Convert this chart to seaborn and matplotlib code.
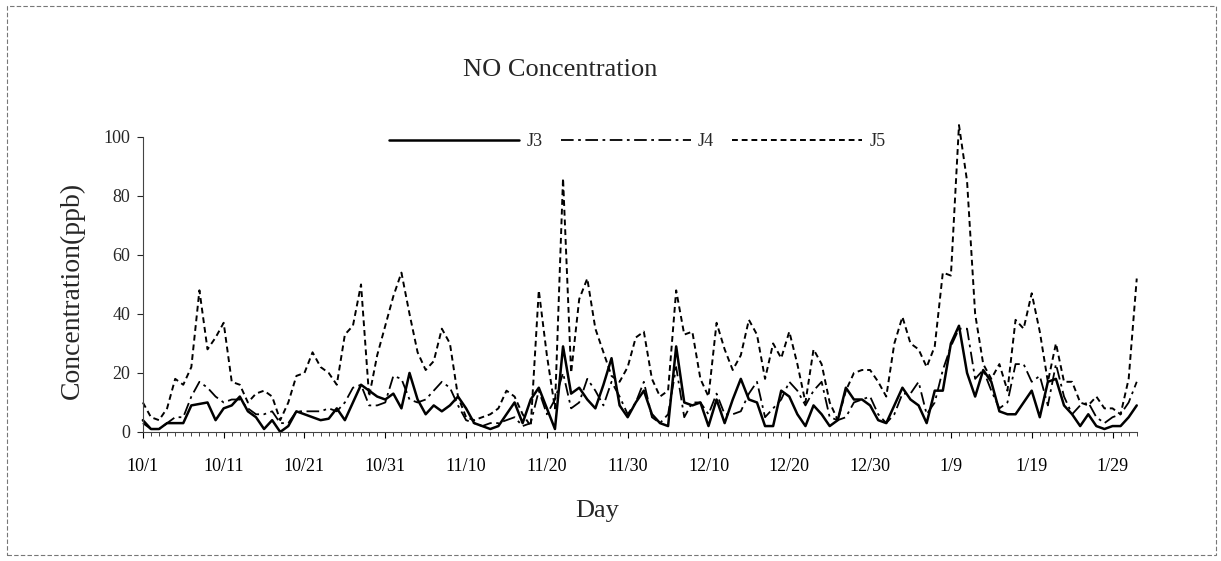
import numpy as np
import pandas as pd
import matplotlib
matplotlib.use("Agg")
import matplotlib.pyplot as plt
from matplotlib.patches import Rectangle
import seaborn as sns

# valeurs journalières de NO (ppb), du 10/1 au 2/1
j3 = [4, 1, 1, 3, 3, 3, 9, 9.5, 10, 4, 8, 9, 12, 7, 5, 1, 4, 0, 2, 7,
      6, 5, 4, 4.5, 8, 4, 10, 16, 14, 12, 11, 13, 8, 20, 11, 6, 9, 7, 9, 12,
      8, 3, 2, 1, 2, 6, 10, 3, 11, 15, 8, 1, 29, 13, 15, 11, 8, 16, 25, 9,
      5, 10, 14, 6, 3, 2, 29, 10, 9, 10, 2, 11, 3, 11, 18, 11, 10, 2, 2, 14,
      12, 6, 2, 9, 6, 2, 4, 15, 11, 11, 9, 4, 3, 9, 15, 11, 9, 3, 14, 14,
      30, 36, 20, 12, 21, 17, 7, 6, 6, 10, 14, 5, 17, 18, 9, 6, 2, 6, 2, 1,
      2, 2, 5, 9]
j4 = [3, 1, 1, 3, 5, 5, 12, 17, 15, 12, 10, 11, 11, 8, 6, 6, 7, 3, 3, 7,
      7, 7, 7, 8, 7, 10, 15, 16, 9, 9, 10, 19, 18, 11, 10, 11, 14, 17, 15, 9,
      4, 3, 2, 3, 3, 4, 5, 2, 3, 14, 6, 11, 20, 8, 10, 18, 14, 9, 17, 12,
      6, 10, 17, 5, 3, 6, 22, 5, 10, 10, 6, 13, 6, 6, 7, 13, 17, 5, 8, 11,
      17, 14, 9, 14, 17, 5, 4, 5, 10, 11, 12, 6, 3, 6, 13, 13, 17, 6, 10, 21,
      29, 35, 35, 18, 21, 14, 8, 10, 23, 23, 17, 19, 9, 23, 12, 6, 9, 10, 5, 3,
      5, 6, 10, 17]
j5 = [10, 5, 4, 8, 18, 16, 22, 48, 28, 32, 37, 17, 16, 10, 13, 14, 12, 4, 10, 19,
      20, 27, 22, 20, 16, 33, 36, 50, 12, 26, 36, 46, 54, 40, 27, 21, 24, 35, 30, 12,
      5, 4, 5, 6, 8, 14, 12, 6, 2, 48, 26, 8, 86, 20, 45, 52, 35, 27, 19, 17,
      22, 32, 34, 18, 12, 14, 48, 33, 34, 18, 12, 37, 28, 21, 26, 38, 33, 18, 30, 25,
      34, 23, 10, 28, 23, 10, 4, 14, 20, 21, 21, 17, 12, 30, 39, 30, 28, 22, 29, 54,
      53, 104, 85, 40, 23, 18, 23, 14, 38, 35, 47, 34, 17, 30, 17, 17, 10, 9, 12, 8,
      8, 6, 18, 52]

tick_days = [0, 10, 20, 30, 40, 50, 60, 70, 80, 90, 100, 110, 120]
tick_labels = ["10/1", "10/11", "10/21", "10/31", "11/10", "11/20", "11/30",
               "12/10", "12/20", "12/30", "1/9", "1/19", "1/29"]

days = np.arange(len(j3))
df = pd.DataFrame({"day": days, "J3": j3, "J4": j4, "J5": j5})

sns.set_theme(style="white")
plt.rcParams['font.family'] = ['Liberation Serif', 'DejaVu Serif']

fig = plt.figure(figsize=(12.21, 5.61), dpi=100)
ax = fig.add_axes([0.117, 0.230, 0.814, 0.526])

styles = {"J3": "-", "J4": (0, (7, 2.5, 1.5, 2.5)), "J5": (0, (3, 2))}
widths = {"J3": 1.8, "J4": 1.3, "J5": 1.4}
for col in ["J3", "J4", "J5"]:
    sns.lineplot(data=df, x="day", y=col, ax=ax, color="black",
                 linestyle=styles[col], linewidth=widths[col], label=col)

# le pic du 1/9 dépasse le haut de l'axe
for line in ax.get_lines():
    line.set_clip_on(False)

ax.set_xlim(0, 123)
ax.set_ylim(0, 100)
ax.set_yticks([0, 20, 40, 60, 80, 100])
ax.set_xticks(tick_days)
ax.set_xticklabels(tick_labels)
ax.set_xticks(days, minor=True)

for s in ["top", "right"]:
    ax.spines[s].set_visible(False)
for s in ["left", "bottom"]:
    ax.spines[s].set_linewidth(0.8)
    ax.spines[s].set_color("#444444")

ax.tick_params(axis="x", which="major", direction="out", length=4, width=0.8,
               pad=15, labelsize=13, bottom=True, colors="black")
ax.tick_params(axis="x", which="minor", direction="out", length=3, width=0.6,
               bottom=True)
ax.tick_params(axis="y", direction="out", length=4, width=0.8, pad=5,
               labelsize=13, left=True)

ax.set_xlabel("Day", fontsize=19)
ax.set_ylabel("Concentration(ppb)", fontsize=20)
ax.xaxis.set_label_coords(0.457, -0.23)
ax.yaxis.set_label_coords(-0.058, 0.48)

ax.get_legend().remove()
handles, labels = ax.get_legend_handles_labels()
fig.legend(handles, labels, ncol=3, loc="center", bbox_to_anchor=(0.522, 0.747),
           frameon=False, fontsize=13, handlelength=7.2, handletextpad=0.4,
           columnspacing=1.0)

fig.text(0.459, 0.875, "NO Concentration", ha="center", va="center", fontsize=19)

fig.patches.append(Rectangle((0.006, 0.01), 0.99, 0.98, transform=fig.transFigure,
                             fill=False, edgecolor="#777777", linewidth=0.8,
                             linestyle=(0, (4, 2))))

fig.savefig("out.png", dpi=100)
